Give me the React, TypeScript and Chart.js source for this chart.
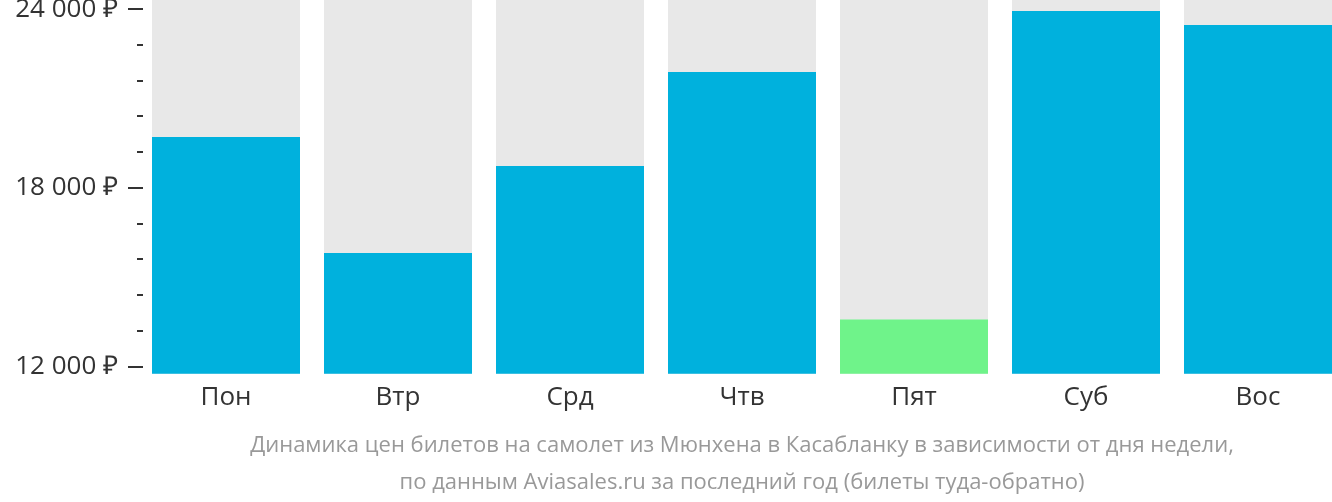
import React, { useEffect, useRef } from "react";
import { Chart, registerables } from "chart.js";

Chart.register(...registerables);

const days = ["Пон", "Втр", "Срд", "Чтв", "Пят", "Суб", "Вос"];
const prices = [19715, 15816, 18740, 21889, 13587, 23940, 23469];
const barColors = ["#00b1dd", "#00b1dd", "#00b1dd", "#00b1dd", "#6ff38a", "#00b1dd", "#00b1dd"];
const trackValues = [24309, 24309, 24309, 24309, 24309, 24309, 24309];
const yTicks = [12000, 13200, 14400, 15600, 16800, 18000, 19200, 20400, 21600, 22800, 24000];
const yLabeled = [12000, 18000, 24000];
const yMin = 11763;
const yMax = 24309;
const titleLines = [
  "Динамика цен билетов на самолет из Мюнхена в Касабланку в зависимости от дня недели,",
  "по данным Aviasales.ru за последний год (билеты туда-обратно)",
];

const fmt = (v: number) => {
  const s = String(Math.round(v));
  return s.replace(/\B(?=(\d{3})+(?!\d))/g, " ") + " ₽";
};

const tickMarks = {
  id: "tickMarks",
  afterDraw(chart: any) {
    const y = chart.scales.y;
    const ctx = chart.ctx;
    ctx.save();
    ctx.strokeStyle = "#333333";
    ctx.lineWidth = 2;
    for (const v of yTicks) {
      const py = Math.round(y.getPixelForValue(v));
      const major = yLabeled.includes(v);
      ctx.beginPath();
      ctx.moveTo(major ? 128 : 137, py);
      ctx.lineTo(143, py);
      ctx.stroke();
    }
    ctx.restore();
  },
};

export default function App() {
  const ref = useRef<HTMLCanvasElement>(null);
  useEffect(() => {
    const chart = new Chart(ref.current!, {
      type: "bar",
      data: {
        labels: days,
        datasets: [
          {
            data: prices,
            backgroundColor: barColors,
            order: 1,
            grouped: false,
            barPercentage: 1,
            categoryPercentage: 148 / 172,
          } as any,
          {
            data: trackValues,
            backgroundColor: "#e8e8e8",
            order: 2,
            grouped: false,
            barPercentage: 1,
            categoryPercentage: 148 / 172,
          } as any,
        ],
      },
      options: {
        animation: false,
        responsive: true,
        maintainAspectRatio: false,
        layout: { padding: 0 },
        plugins: { legend: { display: false }, tooltip: { enabled: false }, title: { display: false } },
        scales: {
          x: {
            grid: { display: false },
            border: { display: false },
            afterFit: (scale: any) => {
              scale.paddingLeft = 0;
              scale.paddingRight = 0;
            },
            ticks: {
              color: "#333333",
              font: { family: "Open Sans", size: 26, lineHeight: 1.2 },
              padding: 0,
            },
            title: {
              display: true,
              text: titleLines,
              color: "#999999",
              font: { family: "Open Sans", size: 22, lineHeight: 37 / 22 },
              padding: { top: 14, bottom: 1 },
            },
          },
          y: {
            min: yMin,
            max: yMax,
            grid: { display: false, drawTicks: false },
            border: { display: false },
            afterBuildTicks: (scale: any) => {
              scale.ticks = yTicks.map((v) => ({ value: v }));
            },
            afterFit: (scale: any) => {
              scale.width = 140;
              scale.paddingTop = 0;
              scale.paddingBottom = 0;
            },
            ticks: {
              color: "#333333",
              font: { family: "Open Sans", size: 26 },
              padding: 22,
              autoSkip: false,
              callback: (v: any) => (yLabeled.includes(Number(v)) ? fmt(Number(v)) : ""),
            },
          },
        },
      },
      plugins: [tickMarks],
    });
    return () => chart.destroy();
  }, []);
  return (
    <div style={{ position: "absolute", left: 0, top: 0, width: 1332, height: 502, overflow: "hidden" }}>
      <div style={{ position: "relative", width: 1344, height: 502 }}>
        <canvas ref={ref} />
      </div>
    </div>
  );
}
